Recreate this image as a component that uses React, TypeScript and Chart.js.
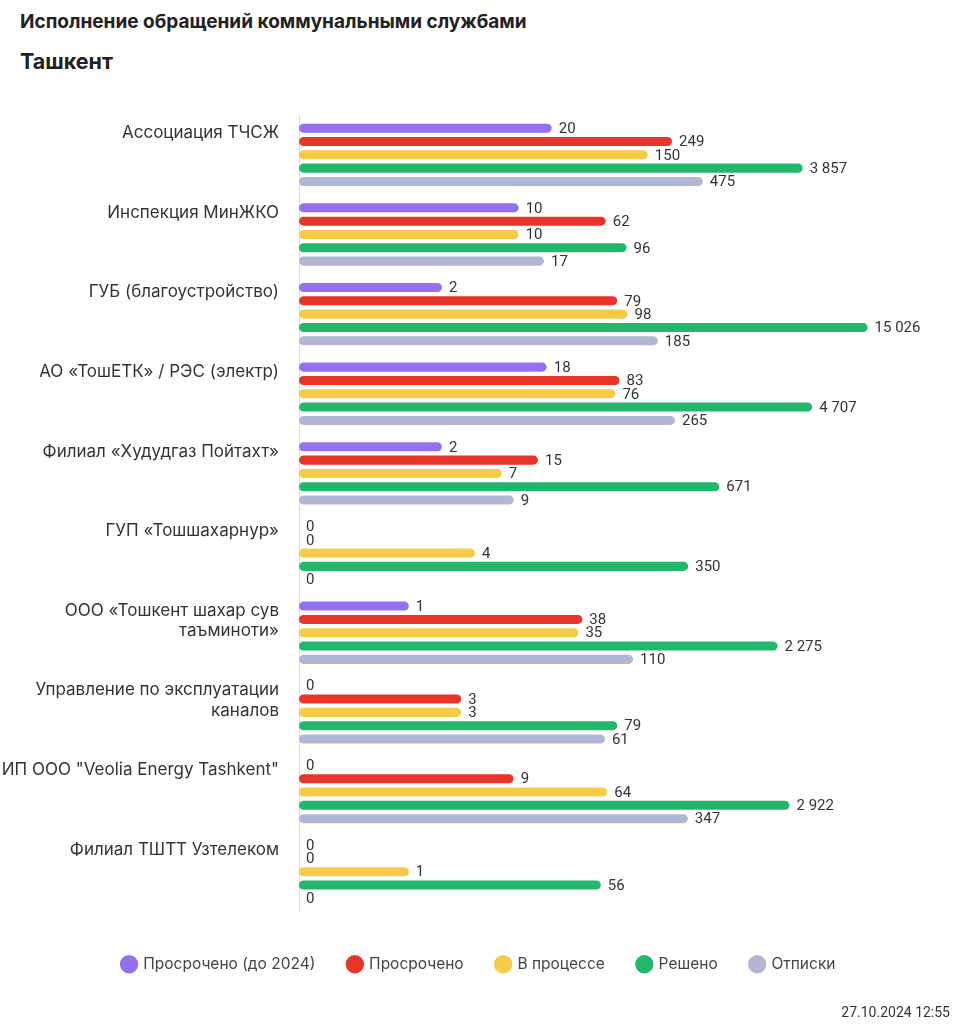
import React, { useEffect, useRef } from "react";
import { Chart, registerables } from "chart.js";

Chart.register(...registerables);

const categories: (string | string[])[] = [
  "Ассоциация ТЧСЖ",
  "Инспекция МинЖКО",
  "ГУБ (благоустройство)",
  "АО «ТошЕТК» / РЭС (электр)",
  "Филиал «Худудгаз Пойтахт»",
  "ГУП «Тошшахарнур»",
  ["ООО «Тошкент шахар сув", "таъминоти»"],
  ["Управление по эксплуатации", "каналов"],
  "ИП ООО \"Veolia Energy Tashkent\"",
  "Филиал ТШТТ Узтелеком",
];

const seriesNames = ["Просрочено (до 2024)", "Просрочено", "В процессе", "Решено", "Отписки"];

const overdueBefore2024 = [20, 10, 2, 18, 2, 0, 1, 0, 0, 0];
const overdue = [249, 62, 79, 83, 15, 0, 38, 3, 9, 0];
const inProgress = [150, 10, 98, 76, 7, 4, 35, 3, 64, 1];
const resolved = [3857, 96, 15026, 4707, 671, 350, 2275, 79, 2922, 56];
const formalReplies = [475, 17, 185, 265, 9, 0, 110, 61, 347, 0];

const seriesColors = ["#9470ee", "#e8352a", "#f5cb48", "#22b86c", "#b1b6d2"];

const fmt = (v: number) => String(v).replace(/\B(?=(\d{3})+(?!\d))/g, " ");

export default function App() {
  const ref = useRef<HTMLCanvasElement>(null);

  useEffect(() => {
    if (!ref.current) return;
    const valueLabels = {
      id: "valueLabels",
      afterDatasetsDraw(chart: any) {
        const { ctx, chartArea } = chart;
        ctx.save();
        ctx.font = "15px Roboto";
        ctx.fillStyle = "#333333";
        ctx.textBaseline = "middle";
        ctx.textAlign = "left";
        chart.data.datasets.forEach((ds: any, di: number) => {
          const meta = chart.getDatasetMeta(di);
          if (meta.hidden) return;
          meta.data.forEach((el: any, i: number) => {
            const v = ds.data[i] as number;
            const x = Math.max(el.x, chartArea.left) + 7;
            ctx.fillText(fmt(v), x, el.y + 1);
          });
        });
        ctx.restore();
      },
    };

    const allSeries = [overdueBefore2024, overdue, inProgress, resolved, formalReplies];
    const chart = new Chart(ref.current, {
      type: "bar",
      data: {
        labels: categories.map((l) => (Array.isArray(l) ? l : [l, ""])),
        datasets: allSeries.map((d, i) => ({
          label: seriesNames[i],
          data: d,
          backgroundColor: seriesColors[i],
          borderRadius: 5,
          borderSkipped: false,
          categoryPercentage: 0.836,
          barPercentage: 0.68,
        })),
      },
      options: {
        indexAxis: "y",
        animation: false,
        responsive: false,
        layout: { padding: { top: 115, right: 5, bottom: 42, left: 0 } },
        scales: {
          x: {
            type: "logarithmic",
            min: 0.1,
            max: 100000,
            ticks: { display: false },
            grid: { display: false },
            border: { display: false },
            afterFit: (s: any) => {
              s.height = 12;
            },
          },
          y: {
            grid: { display: false, drawTicks: false },
            border: { display: true, color: "#d9dce8", width: 1 },
            ticks: {
              padding: 20,
              color: "#333333",
              autoSkip: false,
              labelOffset: -12,
              font: { family: "Inter", size: 17, lineHeight: 1.18 },
            },
            afterFit: (s: any) => {
              s.width = 299;
            },
          },
        },
        plugins: {
          legend: {
            position: "bottom",
            labels: {
              usePointStyle: true,
              pointStyle: "circle",
              boxWidth: 13,
              boxHeight: 13,
              padding: 33,
              color: "#444444",
              font: { family: "Inter", size: 15.5 },
            },
          },
          tooltip: { enabled: false },
        },
      },
      plugins: [valueLabels],
    } as any);
    return () => chart.destroy();
  }, []);

  return (
    <div style={{ position: "absolute", left: 0, top: 0, width: 963, height: 1024, background: "#ffffff", fontFamily: "Inter, sans-serif", color: "#222" }}>
      <div style={{ position: "absolute", left: 20, top: 8, fontSize: 19, fontWeight: 700, lineHeight: "27px", whiteSpace: "nowrap" }}>
        Исполнение обращений коммунальными службами
      </div>
      <div style={{ position: "absolute", left: 20, top: 47, fontSize: 21.5, fontWeight: 700, lineHeight: "29px" }}>Ташкент</div>
      <canvas ref={ref} width={963} height={1024} style={{ position: "absolute", left: 0, top: 0, width: 963, height: 1024 }} />
      <div style={{ position: "absolute", right: 13, top: 1003, fontSize: 14, lineHeight: "18px", color: "#333", fontFamily: "Roboto, sans-serif" }}>
        27.10.2024 12:55
      </div>
    </div>
  );
}
